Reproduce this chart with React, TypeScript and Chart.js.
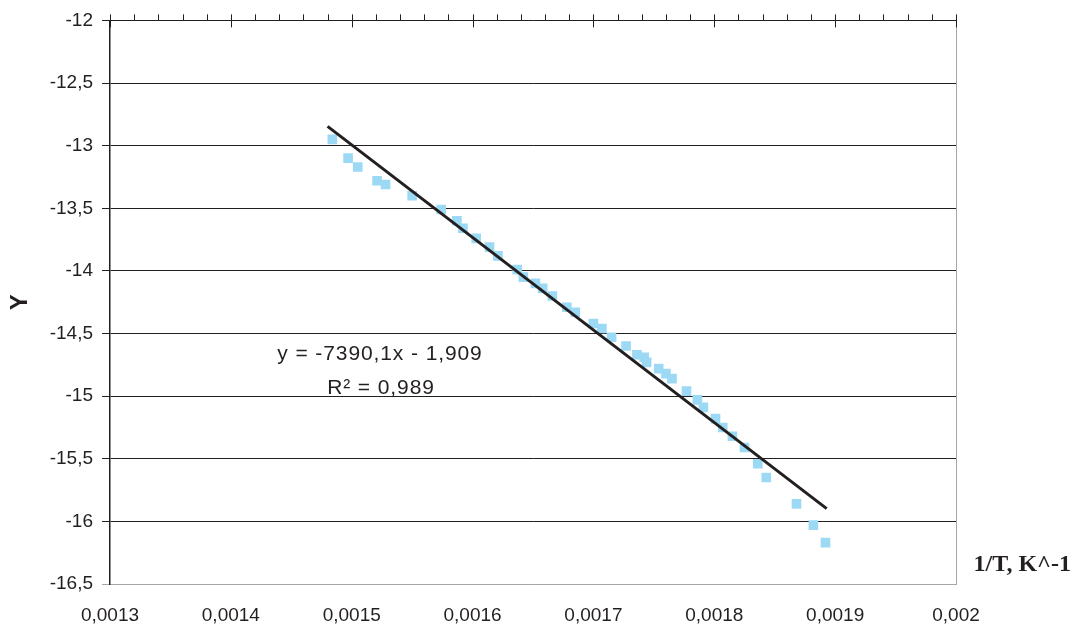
import React, { useEffect, useRef } from 'react';
import { Chart, registerables } from 'chart.js';

Chart.register(...registerables);

// ---- data ----
const invT = [
  0.001484, 0.001497, 0.001505, 0.001521, 0.001528, 0.00155, 0.001574, 0.001587,
  0.001592, 0.001603, 0.001614, 0.001621, 0.001637, 0.001642, 0.001652, 0.001658,
  0.001666, 0.001678, 0.001685, 0.0017, 0.001707, 0.001715, 0.001727, 0.001736,
  0.001742, 0.001744, 0.001754, 0.00176, 0.001765, 0.001777, 0.001786, 0.001791,
  0.001801, 0.001807, 0.001815, 0.001825, 0.001836, 0.001843, 0.001868, 0.001882,
  0.001892,
];
const yValues = [
  -12.95, -13.1, -13.17, -13.28, -13.31, -13.4, -13.51, -13.6,
  -13.66, -13.74, -13.81, -13.88, -13.99, -14.05, -14.1, -14.14,
  -14.2, -14.29, -14.33, -14.42, -14.46, -14.53, -14.6, -14.67,
  -14.69, -14.73, -14.78, -14.82, -14.86, -14.96, -15.03, -15.09,
  -15.18, -15.25, -15.32, -15.41, -15.54, -15.65, -15.86, -16.03,
  -16.17,
];
const trendSlope = -7390.1;
const trendIntercept = -1.909;
const trendXRange = [0.00148, 0.001893];

const xTickValues = [0.0013, 0.0014, 0.0015, 0.0016, 0.0017, 0.0018, 0.0019, 0.002];
const xTickLabels = ['0,0013', '0,0014', '0,0015', '0,0016', '0,0017', '0,0018', '0,0019', '0,002'];
const yTickValues = [-16.5, -16, -15.5, -15, -14.5, -14, -13.5, -13, -12.5, -12];
const yTickLabels = ['-16,5', '-16', '-15,5', '-15', '-14,5', '-14', '-13,5', '-13', '-12,5', '-12'];
const minorStep = 0.00002;

const equationText = 'y = -7390,1x - 1,909';
const r2Text = 'R\u00B2 = 0,989';
const xTitle = '1/T, K^-1';
const yTitle = 'Y';

const INK = '#231f20';
const SANS = 'Arial, "Liberation Sans", sans-serif';
const SERIF = '"Times New Roman", "Liberation Serif", serif';

const decorPlugin = {
  id: 'decor',
  afterDraw(chart: any) {
    const { ctx, chartArea } = chart;
    const xs = chart.scales.x;
    ctx.save();
    // right border
    ctx.strokeStyle = '#a6a6a6';
    ctx.lineWidth = 1;
    ctx.beginPath();
    ctx.moveTo(chartArea.right + 0.5, chartArea.top);
    ctx.lineTo(chartArea.right + 0.5, chartArea.bottom);
    ctx.stroke();
    // top tick marks
    ctx.strokeStyle = INK;
    const n = Math.round((xTickValues[xTickValues.length - 1] - xTickValues[0]) / minorStep);
    for (let i = 0; i <= n; i++) {
      const v = xTickValues[0] + i * minorStep;
      const px = Math.round(xs.getPixelForValue(v)) + 0.5;
      ctx.beginPath();
      ctx.moveTo(px, chartArea.top - 6);
      ctx.lineTo(px, chartArea.top + (i % 5 === 0 ? 7 : 0));
      ctx.stroke();
    }
    // equation
    ctx.fillStyle = INK;
    ctx.font = `21px ${SANS}`;
    (ctx as any).letterSpacing = '0.9px';
    ctx.textAlign = 'center';
    ctx.textBaseline = 'alphabetic';
    ctx.fillText(equationText, 380, 360);
    ctx.fillText(r2Text, 381, 394);
    (ctx as any).letterSpacing = '0px';
    // x title
    ctx.font = `bold 24px ${SERIF}`;
    ctx.textAlign = 'right';
    ctx.fillText(xTitle, 1071, 571);
    ctx.restore();
  },
};

export default function App() {
  const ref = useRef<HTMLCanvasElement | null>(null);

  useEffect(() => {
    if (!ref.current) return;
    const trendData = trendXRange.map((x) => ({ x, y: trendSlope * x + trendIntercept }));
    const points = invT.map((x, i) => ({ x, y: yValues[i] }));
    const chart = new Chart(ref.current, {
      type: 'scatter',
      data: {
        datasets: [
          {
            label: 'trend',
            data: trendData,
            showLine: true,
            borderColor: INK,
            borderWidth: 3,
            pointRadius: 0,
            order: 0,
          } as any,
          {
            label: 'Y',
            data: points,
            pointStyle: 'rect',
            pointRadius: 6.8,
            pointBackgroundColor: '#9bd9f4',
            pointBorderWidth: 0,
            backgroundColor: '#9bd9f4',
            borderWidth: 0,
            order: 1,
          } as any,
        ],
      },
      options: {
        animation: false,
        responsive: true,
        maintainAspectRatio: false,
        layout: { padding: { left: 0, top: 20, right: 118, bottom: 0 } },
        plugins: { legend: { display: false }, tooltip: { enabled: false } },
        scales: {
          x: {
            type: 'linear',
            position: 'bottom',
            min: xTickValues[0],
            max: xTickValues[xTickValues.length - 1],
            afterBuildTicks: (s: any) => {
              s.ticks = xTickValues.map((v) => ({ value: v }));
            },
            afterFit: (s: any) => {
              s.height = 41;
            },
            grid: { display: false, drawTicks: false },
            border: { display: true, color: '#a6a6a6', width: 1 },
            ticks: {
              padding: 20,
              maxRotation: 0,
              autoSkip: false,
              color: INK,
              font: { family: SANS, size: 19 },
              callback: (_v: any, i: number) => xTickLabels[i],
            },
          },
          y: {
            type: 'linear',
            min: yTickValues[0],
            max: yTickValues[yTickValues.length - 1],
            afterBuildTicks: (s: any) => {
              s.ticks = yTickValues.map((v) => ({ value: v }));
            },
            afterFit: (s: any) => {
              s.width = 110;
            },
            grid: {
              color: (c: any) => (c.index === 0 ? '#a6a6a6' : INK),
              lineWidth: 1,
              tickLength: 8,
              drawTicks: true,
            },
            border: { display: true, color: INK, width: 1.5 },
            title: {
              display: true,
              text: yTitle,
              color: INK,
              font: { family: SANS, size: 24, weight: 'bold' },
              padding: { top: 6, bottom: 0 },
            },
            ticks: {
              padding: 9,
              autoSkip: false,
              color: INK,
              font: { family: SANS, size: 19 },
              callback: (_v: any, i: number) => yTickLabels[i],
            },
          },
        },
      },
      plugins: [decorPlugin],
    });
    return () => chart.destroy();
  }, []);

  return (
    <div style={{ position: 'absolute', left: 0, top: 0, width: 1074, height: 625, background: '#fff' }}>
      <canvas ref={ref} />
    </div>
  );
}
